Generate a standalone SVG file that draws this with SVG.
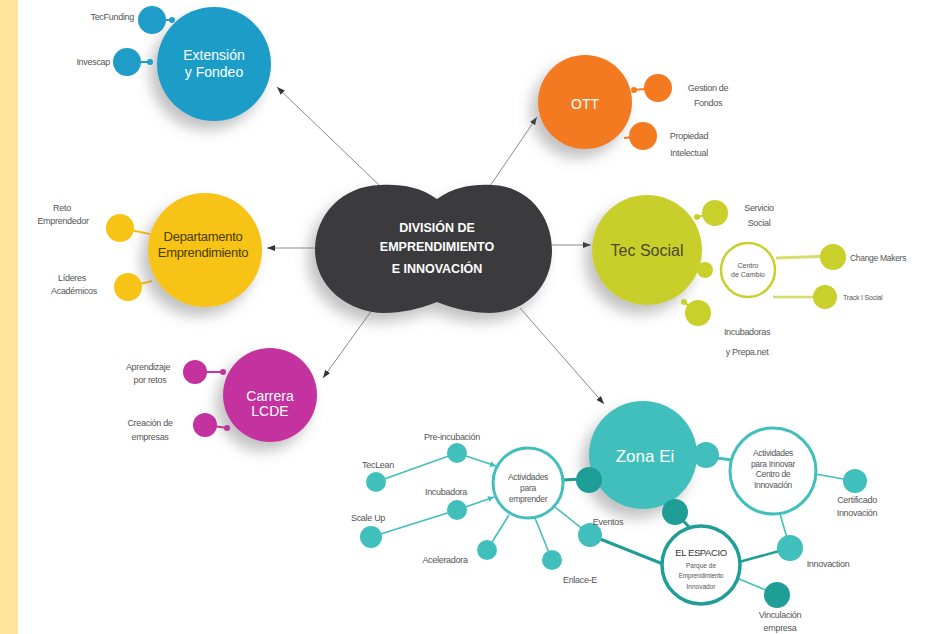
<svg xmlns="http://www.w3.org/2000/svg" width="928" height="634" viewBox="0 0 928 634">
<defs>
<filter id="sh" x="-40%" y="-40%" width="180%" height="180%">
<feDropShadow dx="-7" dy="9" stdDeviation="7" flood-color="#777" flood-opacity="0.45"/>
</filter>
<filter id="shs" x="-40%" y="-40%" width="180%" height="180%">
<feDropShadow dx="-3" dy="4" stdDeviation="3" flood-color="#999" flood-opacity="0.35"/>
</filter>
<marker id="ar" viewBox="0 0 8 6" refX="8" refY="3" markerWidth="8" markerHeight="6" markerUnits="userSpaceOnUse" orient="auto">
<path d="M0,0 L8,3 L0,6 z" fill="#333"/>
</marker>
<marker id="at" viewBox="0 0 6 6" refX="6" refY="3" markerWidth="6" markerHeight="6" markerUnits="userSpaceOnUse" orient="auto">
<path d="M0,0 L6,3 L0,6 z" fill="#41bfbd"/>
</marker>
</defs>
<style>
text{font-family:"Liberation Sans",Arial,sans-serif;}
.lb{font-size:9px;fill:#555;text-anchor:middle;letter-spacing:-0.3px;}
.lbr{font-size:9px;fill:#555;text-anchor:end;letter-spacing:-0.3px;}
.big{font-size:14px;fill:#fff;text-anchor:middle;}
.ctr{font-size:12.5px;fill:#fff;font-weight:bold;text-anchor:middle;}
.conn{stroke:#8a8a8a;stroke-width:1;fill:none;}
.tl{stroke:#41bfbd;stroke-width:1.6;fill:none;}
.in{font-size:8.5px;fill:#555;text-anchor:middle;letter-spacing:-0.3px;}
</style>
<rect x="0" y="0" width="928" height="634" fill="#ffffff"/>
<rect x="0" y="0" width="18" height="634" fill="#fee59a"/>

<g id="connectors">
<line class="conn" x1="380" y1="186" x2="277" y2="87" marker-end="url(#ar)"/>
<line class="conn" x1="490" y1="186" x2="537" y2="117" marker-end="url(#ar)"/>
<line class="conn" x1="552" y1="245" x2="591" y2="245" marker-end="url(#ar)"/>
<line class="conn" x1="315" y1="248" x2="267" y2="248" marker-end="url(#ar)"/>
<line class="conn" x1="372" y1="310" x2="323" y2="378" marker-end="url(#ar)"/>
<line class="conn" x1="520" y1="308" x2="604" y2="404" marker-end="url(#ar)"/>
<!-- small node links -->
<line x1="152" y1="20" x2="172" y2="20" stroke="#1f9dc8" stroke-width="2"/>
<line x1="127" y1="62" x2="152" y2="62" stroke="#1f9dc8" stroke-width="2"/>
<line x1="658" y1="88" x2="632" y2="90" stroke="#f47a20" stroke-width="2"/>
<line x1="643" y1="136" x2="624" y2="138" stroke="#f47a20" stroke-width="2"/>
<line x1="715" y1="213" x2="696" y2="217" stroke="#c9cf2b" stroke-width="2"/>
<line x1="698" y1="313" x2="684" y2="302" stroke="#c9cf2b" stroke-width="2"/>
<line x1="833" y1="256" x2="776" y2="258" stroke="#d8dc6a" stroke-width="3"/>
<line x1="825" y1="297" x2="773" y2="297" stroke="#d8dc6a" stroke-width="2.5"/>
<line x1="120" y1="228" x2="150" y2="234" stroke="#f7c316" stroke-width="2"/>
<line x1="128" y1="287" x2="152" y2="281" stroke="#f7c316" stroke-width="2"/>
<line x1="195" y1="372" x2="225" y2="372" stroke="#c3329f" stroke-width="2"/>
<line x1="205" y1="425" x2="228" y2="428" stroke="#c3329f" stroke-width="2"/>
<!-- teal network -->
<line class="tl" x1="376" y1="482" x2="457" y2="453"/>
<line class="tl" x1="457" y1="453" x2="496" y2="466" marker-end="url(#at)"/>
<line class="tl" x1="371" y1="537" x2="457" y2="510"/>
<line class="tl" x1="457" y1="510" x2="494" y2="497" marker-end="url(#at)"/>
<line class="tl" x1="487" y1="550" x2="509" y2="515"/>
<line class="tl" x1="552" y1="560" x2="535" y2="518"/>
<line class="tl" x1="590" y1="535" x2="555" y2="507"/>
<line x1="590" y1="535" x2="663" y2="564" stroke="#1f9e98" stroke-width="3"/>
<line x1="563" y1="480" x2="600" y2="478" stroke="#1f9e98" stroke-width="3"/>
<line x1="675" y1="512" x2="690" y2="528" stroke="#1f9e98" stroke-width="3"/>
<line x1="694" y1="455" x2="732" y2="460" stroke="#41bfbd" stroke-width="3"/>
<line class="tl" x1="815" y1="474" x2="855" y2="481"/>
<line class="tl" x1="780" y1="514" x2="790" y2="548"/>
<line x1="739" y1="562" x2="790" y2="548" stroke="#1f9e98" stroke-width="2.5"/>
<line class="tl" x1="737" y1="578" x2="777" y2="595"/>
</g>

<g id="center">
<path d="M437,199 C455,186 475,184 492,185 C527,186 552,215 552,250 C552,287 525,313 490,313 C472,313 455,309 437,302 C419,309 402,313 384,313 C349,313 315,287 315,250 C315,215 342,186 380,185 C399,184 419,186 437,199 Z" fill="#3a3a3c" filter="url(#sh)"/>
<text class="ctr" x="437" y="232">DIVISIÓN DE</text>
<text class="ctr" x="437" y="251">EMPRENDIMIENTO</text>
<text class="ctr" x="437" y="273">E INNOVACIÓN</text>
</g>

<g id="extension">
<circle cx="214" cy="64" r="57" fill="#1f9dc8" filter="url(#sh)"/>
<text class="big" x="214" y="60">Extensión</text>
<text class="big" x="214" y="77">y Fondeo</text>
</g>
<g id="tecfunding">
<circle cx="152" cy="20" r="14" fill="#1f9dc8"/>
<circle cx="172" cy="20" r="3" fill="#1f9dc8"/>
<text class="lbr" x="134" y="20">TecFunding</text>
</g>
<g id="invescap">
<circle cx="127" cy="62" r="14" fill="#1f9dc8"/>
<circle cx="150" cy="62" r="3" fill="#1f9dc8"/>
<text class="lbr" x="110" y="65">Invescap</text>
</g>

<g id="ott">
<circle cx="585" cy="102" r="47" fill="#f47a20" filter="url(#sh)"/>
<text class="big" x="585" y="109" font-size="16">OTT</text>
</g>
<g id="gestion">
<circle cx="658" cy="88" r="14" fill="#f47a20"/>
<circle cx="634" cy="90" r="3" fill="#f47a20"/>
<text class="lb" x="708" y="91">Gestion de</text>
<text class="lb" x="708" y="106">Fondos</text>
</g>
<g id="propiedad">
<circle cx="643" cy="136" r="14" fill="#f47a20"/>
<text class="lb" x="689" y="139">Propiedad</text>
<text class="lb" x="689" y="156">Intelectual</text>
</g>

<g id="tecsocial">
<circle cx="647" cy="250" r="55" fill="#c9cf2b" filter="url(#sh)"/>
<text x="647" y="256" font-size="16" fill="#4a4a2a" text-anchor="middle">Tec Social</text>
</g>
<g id="servicio">
<circle cx="715" cy="213" r="13" fill="#c9cf2b"/>
<circle cx="697" cy="217" r="3" fill="#c9cf2b"/>
<text class="lb" x="759" y="211">Servicio</text>
<text class="lb" x="759" y="226">Social</text>
</g>
<g id="incubadoras">
<circle cx="698" cy="313" r="13" fill="#c9cf2b"/>
<circle cx="684" cy="302" r="3" fill="#c9cf2b"/>
<text class="lb" x="747" y="335">Incubadoras</text>
<text class="lb" x="747" y="355">y Prepa.net</text>
</g>
<g id="centrocambio">
<circle cx="705" cy="270" r="8" fill="#c9cf2b"/>
<circle cx="748" cy="270" r="27" fill="#fff" stroke="#c9cf2b" stroke-width="2.5"/>
<text x="748" y="268" font-size="7" fill="#555" text-anchor="middle">Centro</text>
<text x="748" y="277" font-size="7" fill="#555" text-anchor="middle">de Cambio</text>
</g>
<g id="changemakers">
<circle cx="833" cy="257" r="13" fill="#c9cf2b"/>
<text x="850" y="261" font-size="8.5" fill="#555" letter-spacing="-0.3">Change Makers</text>
</g>
<g id="tracksocial">
<circle cx="825" cy="297" r="12" fill="#c9cf2b"/>
<text x="843" y="300" font-size="7" fill="#555" letter-spacing="-0.2">Track I Social</text>
</g>

<g id="departamento">
<circle cx="205" cy="250" r="57" fill="#f7c316" filter="url(#sh)"/>
<text x="203" y="241" font-size="13" fill="#4a3b00" text-anchor="middle" letter-spacing="-0.3">Departamento</text>
<text x="203" y="257" font-size="13" fill="#4a3b00" text-anchor="middle" letter-spacing="-0.3">Emprendimiento</text>
</g>
<g id="reto">
<circle cx="120" cy="228" r="14" fill="#f7c316"/>
<text class="lb" x="62" y="211">Reto</text>
<text class="lb" x="63" y="224">Emprendedor</text>
</g>
<g id="lideres">
<circle cx="128" cy="287" r="14" fill="#f7c316"/>
<text class="lb" x="72" y="281">Líderes</text>
<text class="lb" x="74" y="294">Académicos</text>
</g>

<g id="carrera">
<circle cx="270" cy="395" r="47" fill="#c3329f" filter="url(#sh)"/>
<text class="big" x="270" y="401">Carrera</text>
<text class="big" x="270" y="416">LCDE</text>
</g>
<g id="aprendizaje">
<circle cx="195" cy="372" r="12" fill="#c3329f"/>
<circle cx="223" cy="372" r="3" fill="#c3329f"/>
<text class="lb" x="148" y="370">Aprendizaje</text>
<text class="lb" x="150" y="383">por retos</text>
</g>
<g id="creacion">
<circle cx="205" cy="425" r="12" fill="#c3329f"/>
<circle cx="227" cy="428" r="3" fill="#c3329f"/>
<text class="lb" x="150" y="426">Creación de</text>
<text class="lb" x="150" y="440">empresas</text>
</g>

<g id="zonaei">
<circle cx="706" cy="455" r="13" fill="#41bfbd"/>
<circle cx="643" cy="455" r="54" fill="#41bfbd" filter="url(#sh)"/>
<text x="645" y="462" font-size="17" fill="#fff" text-anchor="middle">Zona Ei</text>
</g>
<g id="link-emprender">
<circle cx="589" cy="480" r="13" fill="#1f9e98"/>
</g>
<g id="link-espacio">
<circle cx="675" cy="512" r="13" fill="#1f9e98"/>
</g>

<g id="act-emprender">
<circle cx="528" cy="483" r="35" fill="#fff" stroke="#41bfbd" stroke-width="3"/>
<text class="in" x="528" y="480">Actividades</text>
<text class="in" x="528" y="491">para</text>
<text class="in" x="528" y="502">emprender</text>
</g>
<g id="preincubacion">
<circle cx="457" cy="453" r="10" fill="#41bfbd"/>
<text class="lb" x="452" y="440">Pre-incubación</text>
</g>
<g id="teclean">
<circle cx="376" cy="482" r="10" fill="#41bfbd"/>
<text class="lb" x="378" y="468">TecLean</text>
</g>
<g id="incubadora">
<circle cx="457" cy="510" r="10" fill="#41bfbd"/>
<text class="lb" x="446" y="495">Incubadora</text>
</g>
<g id="scaleup">
<circle cx="371" cy="537" r="11" fill="#41bfbd"/>
<text class="lb" x="368" y="521">Scale Up</text>
</g>
<g id="aceleradora">
<circle cx="487" cy="550" r="10" fill="#41bfbd"/>
<text class="lb" x="445" y="563">Aceleradora</text>
</g>
<g id="enlace">
<circle cx="552" cy="560" r="10" fill="#41bfbd"/>
<text class="lb" x="580" y="583">Enlace-E</text>
</g>
<g id="eventos">
<circle cx="590" cy="535" r="12" fill="#41bfbd"/>
<text class="lb" x="608" y="525">Eventos</text>
</g>

<g id="act-innovar">
<circle cx="773" cy="471" r="43" fill="#fff" stroke="#41bfbd" stroke-width="3"/>
<text class="in" x="773" y="456">Actividades</text>
<text class="in" x="773" y="467">para Innovar</text>
<text class="in" x="773" y="477">Centro de</text>
<text class="in" x="773" y="488">Innovación</text>
</g>
<g id="certificado">
<circle cx="855" cy="481" r="12" fill="#41bfbd"/>
<text class="lb" x="857" y="503">Certificado</text>
<text class="lb" x="857" y="516">Innovación</text>
</g>
<g id="innovaction">
<circle cx="790" cy="548" r="13" fill="#41bfbd"/>
<text class="lb" x="828" y="567">Innovaction</text>
</g>
<g id="elespacio">
<circle cx="701" cy="565" r="39" fill="#fff" stroke="#1f9e98" stroke-width="3.5"/>
<text x="701" y="556" font-size="9.5" fill="#333" text-anchor="middle" letter-spacing="-0.4">EL ESPACIO</text>
<text x="701" y="568" font-size="6.5" fill="#555" text-anchor="middle">Parque de</text>
<text x="701" y="578" font-size="6.5" fill="#555" text-anchor="middle" letter-spacing="-0.2">Emprendimiento</text>
<text x="701" y="589" font-size="6.5" fill="#555" text-anchor="middle">Innovador</text>
</g>
<g id="vinculacion">
<circle cx="777" cy="595" r="13" fill="#1f9e98"/>
<text class="lb" x="780" y="618">Vinculación</text>
<text class="lb" x="780" y="631">empresa</text>
</g>
</svg>
